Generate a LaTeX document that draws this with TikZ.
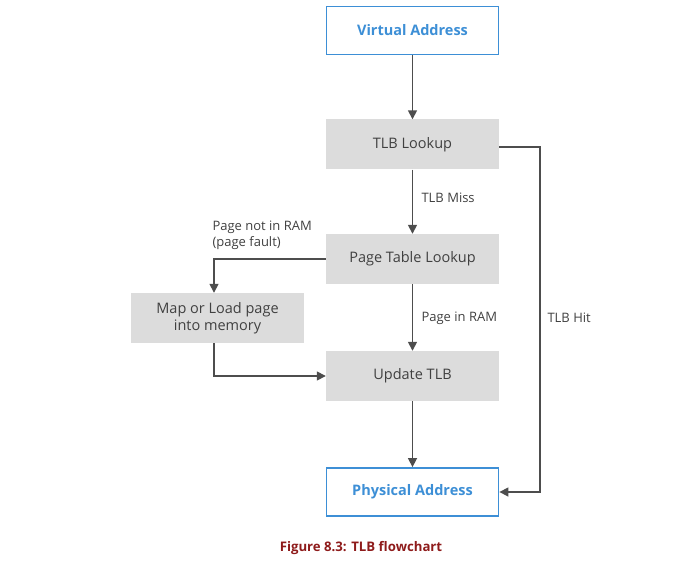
\documentclass[tikz,border=0pt]{standalone}
\usepackage{fontspec}
\setmainfont{Open Sans}
\usetikzlibrary{arrows.meta,positioning}

\definecolor{addrblue}{HTML}{3D8FD6}
\definecolor{stepgray}{HTML}{DCDCDC}
\definecolor{linegray}{HTML}{4D4D4D}
\definecolor{capred}{HTML}{8E1B1B}

\tikzset{
    addr/.style={draw=addrblue, line width=1.8pt, fill=white, text=addrblue,
        font=\fontsize{14.5}{17}\selectfont\bfseries, minimum width=172pt, minimum height=48pt},
    stepbox/.style={fill=stepgray, text=black!75, font=\fontsize{14.5}{17}\selectfont,
        minimum width=173pt, minimum height=50pt, align=center},
    flow/.style={draw=linegray, line width=1.5pt, -{Triangle[length=9pt,width=9pt]}},
    lbl/.style={text=black!75, font=\fontsize{13}{16}\selectfont, align=left}
}

\begin{document}
\begin{tikzpicture}[x=1pt,y=-1pt]
    \useasboundingbox (0,0) rectangle (695,561);
    % boxes
    \node[addr] (virt) at (412.5,30.5) {Virtual Address};
    \node[stepbox] (tlb) at (412.5,144.5) {TLB Lookup};
    \node[stepbox] (ptl) at (412.5,259) {Page Table Lookup};
    \node[stepbox] (map) at (217.5,318) {Map or Load page\\into memory};
    \node[stepbox] (upd) at (412.5,376) {Update TLB};
    \node[addr] (phys) at (412.5,492) {Physical Address};
    % corners
    \coordinate (hit) at (540,147);
    \coordinate (fault) at (214,259);
    \coordinate (load) at (214,376);
    % connectors
    \draw[flow] (virt) -- (tlb);
    \draw[flow] (tlb) -- (ptl);
    \draw[flow] (ptl) -- (upd);
    \draw[flow] (upd) -- (phys);
    \draw[flow] (tlb.east |- hit) -- (hit) |- (phys.east);
    \draw[flow] (ptl.west |- fault) -- (fault) -- (map.north -| fault);
    \draw[flow] (map.south -| load) -- (load) -- (upd.west |- load);
    % labels
    \node[lbl, anchor=west] (miss) at (418,198) {TLB Miss};
    \node[lbl, anchor=west] (inram) at (418,318) {Page in RAM};
    \node[lbl, anchor=west] (hitlbl) at (544,318) {TLB Hit};
    \node[lbl, anchor=west] (notram) at (209,235) {Page not in RAM\\(page fault)};
    % caption
    \node[text=capred, font=\fontsize{13.2}{16}\selectfont\bfseries] (cap) at (361,548) {Figure 8.3: TLB flowchart};
\end{tikzpicture}
\end{document}
